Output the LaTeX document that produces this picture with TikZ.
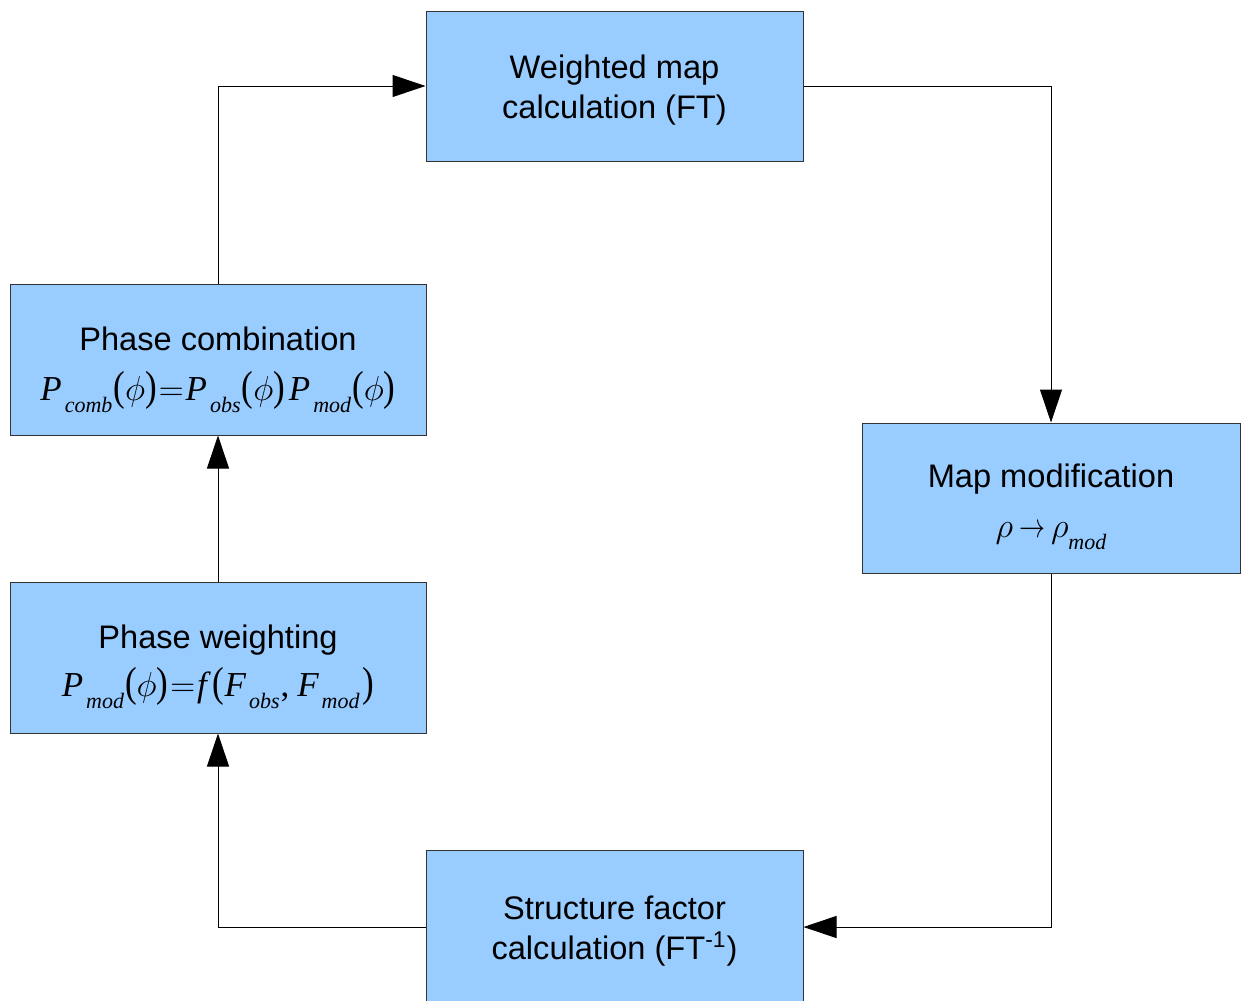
\documentclass[tikz,border=0pt]{standalone}
\usepackage{fontspec}
\setmainfont{Liberation Sans}
\newfontfamily\formfont{Liberation Serif}
\usetikzlibrary{arrows.meta}
% lowered subscript and upright brackets for the formulas
\newcommand{\lo}[1]{\kern1.5pt\raisebox{-0.75ex}{\fontsize{11}{11}\selectfont #1}\kern0.5pt}
\newcommand{\lb}{{\upshape\scalebox{1}[1.2]{(}}}
\newcommand{\rb}{{\upshape\scalebox{1}[1.2]{)}}}
\newcommand{\ph}{\lb$\phi$\rb}
\newcommand{\eq}{\kern1pt$=$\kern1pt}
\newcommand{\formula}[1]{{\formfont\itshape\fontsize{17.5}{19}\selectfont #1}}
\newcommand{\lift}[1]{\rule{0pt}{#1}}
\begin{document}
\begin{tikzpicture}[x=0.5pt,y=-0.5pt,
  block/.style={rectangle,draw=black!80,line width=0.5pt,fill=blockblue,
    minimum width=188.5pt,minimum height=75pt,align=center,inner sep=0pt,
    font=\fontsize{16.3}{20}\selectfont},
  wide block/.style={block,minimum width=208pt,minimum height=75.5pt},
  flow/.style={line width=0.5pt,-{Triangle[length=16.5pt,width=11pt]}}]
  \definecolor{blockblue}{HTML}{99CCFF}
  \useasboundingbox (0,0) rectangle (1242,1001);

  \node[block] (wmap) at (614.5,86) {\lift{16pt}Weighted map\\calculation (FT)};
  \node[wide block] (pcomb) at (218,359.5)
    {\lift{22pt}Phase combination\\[5pt]\formula{P\lo{comb}\ph\eq P\lo{obs}\ph\kern2pt P\lo{mod}\ph}};
  \node[block,minimum width=189pt] (mmod) at (1051,498)
    {\lift{21pt}Map modification\\[5pt]\formula{$\rho$\kern3pt\scalebox{0.75}[1]{$\rightarrow$}\kern3pt$\rho$\raisebox{-0.75ex}{\fontsize{11}{11}\selectfont mod}}};
  \node[wide block] (pweight) at (218,657.5)
    {\lift{21pt}Phase weighting\\[4pt]\formula{P\lo{mod}\ph\eq f\kern3pt\lb F\lo{obs}{\upshape,}\kern4pt F\lo{mod}\kern1pt\rb}};
  \node[block,minimum height=77pt] (sfac) at (614.5,927)
    {\lift{16pt}Structure factor\\calculation (FT\textsuperscript{-1})};

  \draw[flow] (pcomb.north) |- (wmap.west);
  \draw[flow] (wmap.east) -| (mmod.north);
  \draw[flow] (mmod.south) |- (sfac.east);
  \draw[flow] (sfac.west) -| (pweight.south);
  \draw[flow] (pweight.north) -- (pcomb.south);
\end{tikzpicture}
\end{document}
